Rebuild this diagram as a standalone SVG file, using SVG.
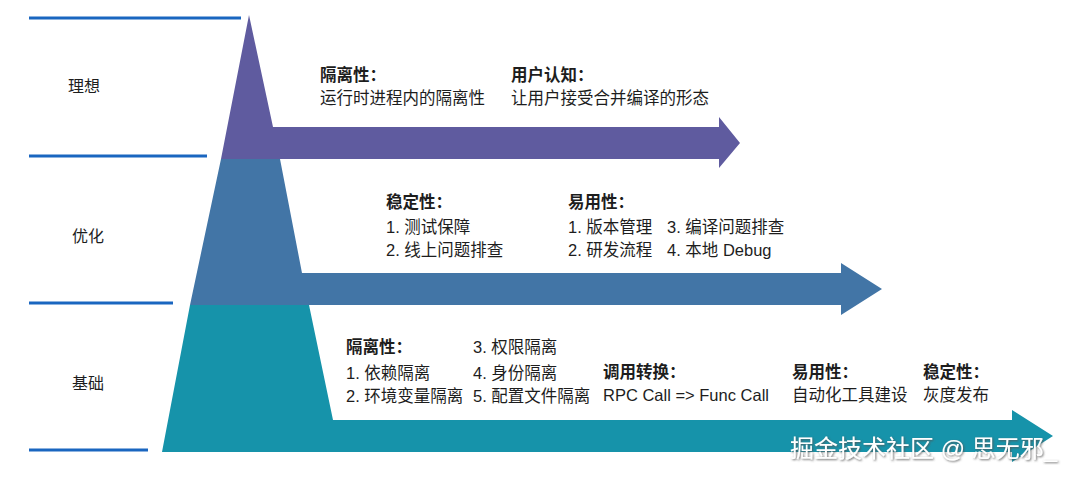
<svg xmlns="http://www.w3.org/2000/svg" width="1080" height="479" viewBox="0 0 1080 479">
<defs>
<style>
.t{font-family:"Liberation Sans","Noto Sans CJK SC",sans-serif;font-size:16.5px;fill:#1d1d1d}
.b{font-weight:bold}
.lab{font-family:"Liberation Sans","Noto Sans CJK SC",sans-serif;font-size:16px;fill:#1d1d1d}
.guide{stroke:#1a66c0;stroke-width:3;fill:none}
.wm{font-family:"Liberation Sans","Noto Sans CJK SC",sans-serif;font-size:24px;fill:#ffffff}
</style>
<filter id="sh" x="-5%" y="-30%" width="110%" height="160%">
<feDropShadow dx="1" dy="1" stdDeviation="0.8" flood-color="#555555" flood-opacity="0.9"/>
</filter>
</defs>
<rect width="1080" height="479" fill="#ffffff"/>
<g id="guides">
<line class="guide" x1="29" y1="18" x2="241" y2="18"/>
<line class="guide" x1="29" y1="156" x2="207" y2="156"/>
<line class="guide" x1="29" y1="303" x2="173" y2="303"/>
<line class="guide" x1="29" y1="450" x2="148" y2="450"/>
</g>
<g id="labels">
<text class="lab" x="68" y="92">理想</text>
<text class="lab" x="72" y="242">优化</text>
<text class="lab" x="72" y="389">基础</text>
</g>
<g id="tier-ideal">
<polygon fill="#5f5b9f" points="249,15 273,127 719,127 719,117 740,143 719,168 719,159 221,159"/>
<text class="t b" x="320" y="81">隔离性：</text>
<text class="t" x="320" y="104">运行时进程内的隔离性</text>
<text class="t b" x="511" y="81">用户认知：</text>
<text class="t" x="511" y="104">让用户接受合并编译的形态</text>
</g>
<g id="tier-optimize">
<polygon fill="#4275a6" points="221,159 280,159 302,273 841,273 841,263 882,289 841,315 841,305 190,305"/>
<text class="t b" x="386" y="208">稳定性：</text>
<text class="t" x="386" y="233">1. 测试保障</text>
<text class="t" x="386" y="256">2. 线上问题排查</text>
<text class="t b" x="568" y="208">易用性：</text>
<text class="t" x="568" y="233">1. 版本管理</text>
<text class="t" x="568" y="256">2. 研发流程</text>
<text class="t" x="667" y="233">3. 编译问题排查</text>
<text class="t" x="667" y="256">4. 本地 Debug</text>
</g>
<g id="tier-base">
<polygon fill="#1693aa" points="190,305 309,305 333,420 1012,420 1012,410 1053,436 1012,462 1012,452 162,452"/>
<text class="t b" x="346" y="353">隔离性：</text>
<text class="t" x="346" y="379">1. 依赖隔离</text>
<text class="t" x="346" y="402">2. 环境变量隔离</text>
<text class="t" x="473" y="353">3. 权限隔离</text>
<text class="t" x="473" y="379">4. 身份隔离</text>
<text class="t" x="473" y="402">5. 配置文件隔离</text>
<text class="t b" x="603" y="378">调用转换：</text>
<text class="t" x="603" y="401">RPC Call =&gt; Func Call</text>
<text class="t b" x="792" y="378">易用性：</text>
<text class="t" x="792" y="401">自动化工具建设</text>
<text class="t b" x="923" y="378">稳定性：</text>
<text class="t" x="923" y="401">灰度发布</text>
</g>
<g id="watermark">
<text class="wm" x="790" y="457" filter="url(#sh)">掘金技术社区 @ 思无邪_</text>
</g>
</svg>
